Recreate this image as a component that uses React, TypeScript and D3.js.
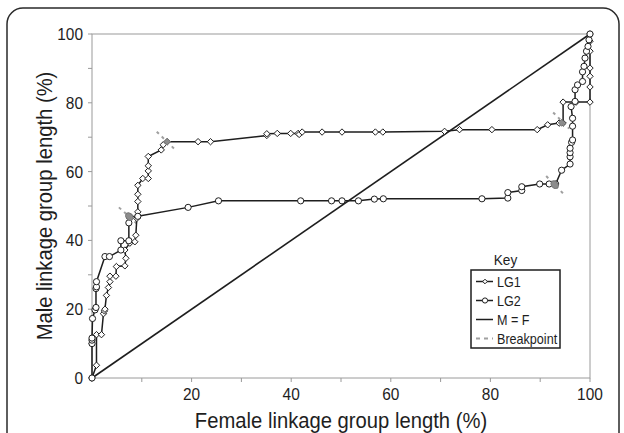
import React from 'react';
import * as d3 from 'd3';

// female (x) and male (y) map positions, % of linkage group length
const lg1Female = [0, 0.9, 0.9, 1.9, 2.3, 2.5, 2.6, 2.9, 3.3, 3.6, 3.6, 4.8, 4.9, 6.6, 6.8, 6.6, 7.6, 8.6, 8.8, 9.0, 9.2, 9.2, 9.2, 9.2, 10.2, 11.3, 11.3, 11.3, 11.3, 13.9, 14.3, 15.1, 21.3, 23.8, 35.1, 35.1, 37.2, 39.9, 41.4, 41.6, 42.2, 46.2, 50.2, 56.9, 58.4, 70.8, 73.8, 80.3, 89.4, 91.5, 93.8, 94.6, 94.6, 97.2, 100, 100, 100, 100, 100, 100, 100];
const lg1Male = [0, 3.7, 12.6, 12.6, 18.7, 19.5, 20, 24, 26.3, 28, 29.6, 29.6, 32.4, 32.6, 34.8, 37.2, 39.2, 39.6, 41.5, 46.4, 48.3, 51.3, 53.4, 56, 58, 58, 60.2, 61.7, 64.4, 66.3, 67.8, 68.7, 68.7, 68.7, 70.5, 71, 71.1, 71.1, 71.1, 70.8, 71.5, 71.5, 71.5, 71.5, 71.5, 71.7, 72.2, 72.2, 72.2, 73.6, 74.1, 74.1, 80.2, 80.2, 80.2, 84.6, 87.7, 90.1, 95, 97.9, 100];

const lg2Female = [0, 0, 0, 0, 0.1, 0.6, 0.8, 0.8, 0.9, 0.9, 2.6, 3.5, 5.8, 5.8, 7.4, 7.4, 7.5, 9.2, 19.3, 25.4, 41.9, 48.1, 50.2, 53.5, 56.7, 58.5, 78.3, 83.5, 83.5, 86.3, 86.3, 89.9, 91.8, 93.1, 94.3, 96, 96, 96, 96, 96.3, 96.5, 96.5, 96.5, 96.2, 97, 97, 97.5, 98.5, 98.5, 98.8, 99, 99.3, 99.6, 99.8, 100];
const lg2Male = [0, 10, 11, 11.6, 17.3, 19.8, 20.5, 26, 26.5, 28, 35.3, 35.3, 37.2, 39.9, 39.9, 45.1, 46.9, 47, 49.6, 51.5, 51.5, 51.5, 51.5, 51.5, 52, 52.1, 52.1, 52.3, 53.9, 54.5, 55.6, 56.4, 56.4, 56.4, 60.4, 62.2, 64.3, 65.5, 66.8, 68.5, 69.2, 73.2, 75.5, 78.9, 80.4, 83.8, 85.2, 86.2, 89, 90.6, 93, 95, 96.4, 98.3, 100];

// breakpoints: marker position plus the dashed segment across it
const bpGroup = ['LG1', 'LG2', 'LG1', 'LG2'];
const bpFemale = [15.1, 7.5, 94.3, 92.9];
const bpMale = [68.7, 46.9, 74.2, 56.2];
const bpFromFemale = [13.0, 5.4, 92.6, 91.2];
const bpFromMale = [71.6, 49.6, 77.2, 58.7];
const bpToFemale = [16.9, 9.4, 95.8, 94.9];
const bpToMale = [66.1, 44.4, 72.5, 53.2];

const xLabels = [20, 40, 60, 80, 100];
const yLabels = [0, 20, 40, 60, 80, 100];
const minorTicks = [0, 10, 20, 30, 40, 50, 60, 70, 80, 90, 100];

const legendItems = ['LG1', 'LG2', 'M = F', 'Breakpoint'];

const W = 624;
const H = 433;
const margin = { left: 92, right: 34, top: 34, bottom: 55 };
const FONT = 'Liberation Sans, Arial, sans-serif';
const INK = '#1e1e1e';
const AXIS = '#9a9a9a';
const BP = '#a0a0a0';

const diamond = (h: number) => `M0,${-h}L${h},0L0,${h}L${-h},0Z`;

function Sq({ x, y, children, size, anchor = 'start', rotate = 0, sx = 0.91 }: any) {
  return (
    <text
      transform={`translate(${x},${y}) rotate(${rotate}) scale(${sx},1)`}
      fontSize={size}
      fontFamily={FONT}
      fill={INK}
      textAnchor={anchor}
    >
      {children}
    </text>
  );
}

export default function App() {
  const x = d3.scaleLinear().domain([0, 100]).range([margin.left, W - margin.right]);
  const y = d3.scaleLinear().domain([0, 100]).range([H - margin.bottom, margin.top]);

  const lg1 = lg1Female.map((f, i) => [f, lg1Male[i]] as [number, number]);
  const lg2 = lg2Female.map((f, i) => [f, lg2Male[i]] as [number, number]);
  const line = d3.line<[number, number]>().x(d => x(d[0])).y(d => y(d[1]));

  const x0 = x(0), x1 = x(100), y0 = y(0), y1 = y(100);

  const lgX = 471, lgY = 270, lgW = 89, lgH = 78;
  const rowY = [281.5, 300.5, 319.5, 338.5];

  return (
    <svg width={W} height={H} style={{ position: 'absolute', left: 0, top: 0, background: '#fff' }}>
      <rect x={0} y={0} width={W} height={H} fill="#fff" />
      <rect x={7} y={8} width={612} height={460} rx={16} ry={16} fill="none" stroke="#2a2a2a" strokeWidth={1.5} />

      {/* plot frame */}
      <rect x={x0} y={y1} width={x1 - x0} height={y0 - y1} fill="none" stroke={AXIS} strokeWidth={1} />
      {minorTicks.map(t => (
        <line key={'xt' + t} x1={x(t)} x2={x(t)} y1={y0} y2={y0 + 4} stroke={AXIS} />
      ))}
      {minorTicks.map(t => (
        <line key={'yt' + t} x1={x0 - 4} x2={x0} y1={y(t)} y2={y(t)} stroke={AXIS} />
      ))}
      {xLabels.map(t => (
        <Sq key={'xl' + t} x={x(t)} y={y0 + 22} size={17} anchor="middle">{t}</Sq>
      ))}
      {yLabels.map(t => (
        <Sq key={'yl' + t} x={x0 - 9} y={y(t) + 6} size={17} anchor="end">{t}</Sq>
      ))}
      <Sq x={(x0 + x1) / 2} y={428} size={22} anchor="middle" sx={0.92}>Female linkage group length (%)</Sq>
      <Sq x={52} y={(y0 + y1) / 2} size={22} anchor="middle" rotate={-90} sx={0.92}>Male linkage group length (%)</Sq>

      {/* M = F */}
      <line x1={x(0)} y1={y(0)} x2={x(100)} y2={y(100)} stroke={INK} strokeWidth={1.6} />

      {/* breakpoints */}
      {bpGroup.map((g, i) => (
        <line key={'bp' + i} x1={x(bpFromFemale[i])} y1={y(bpFromMale[i])} x2={x(bpToFemale[i])} y2={y(bpToMale[i])}
          stroke={BP} strokeWidth={2} strokeDasharray="3,4" />
      ))}

      <path d={line(lg1) || ''} fill="none" stroke={INK} strokeWidth={1.5} />
      <path d={line(lg2) || ''} fill="none" stroke={INK} strokeWidth={1.5} />

      {lg1.map((d, i) => (
        <path key={'d' + i} d={diamond(3.2)} transform={`translate(${x(d[0])},${y(d[1])})`} fill="#fff" stroke={INK} strokeWidth={1} />
      ))}
      {lg2.map((d, i) => (
        <circle key={'c' + i} cx={x(d[0])} cy={y(d[1])} r={3.1} fill="#fff" stroke={INK} strokeWidth={1} />
      ))}

      {bpGroup.map((g, i) => g === 'LG1'
        ? <path key={'bm' + i} d={diamond(3.4)} transform={`translate(${x(bpFemale[i])},${y(bpMale[i])})`} fill="#8c8c8c" stroke="#777" />
        : <ellipse key={'bm' + i} cx={x(bpFemale[i])} cy={y(bpMale[i])} rx={3.2} ry={4.2} transform={`rotate(-40,${x(bpFemale[i])},${y(bpMale[i])})`} fill="#8c8c8c" stroke="#777" />
      )}

      {/* legend */}
      <Sq x={lgX + lgW / 2 - 10} y={lgY - 5} size={15} anchor="middle">Key</Sq>
      <rect x={lgX} y={lgY} width={lgW} height={lgH} fill="#fff" stroke={INK} strokeWidth={1.5} />
      {legendItems.map((name, i) => (
        <g key={name}>
          <line x1={lgX + 5} x2={lgX + 22} y1={rowY[i]} y2={rowY[i]}
            stroke={i === 3 ? BP : INK} strokeWidth={i === 3 ? 2 : 1.5} strokeDasharray={i === 3 ? '4,4' : undefined} />
          {i === 0 && <path d={diamond(2.3)} transform={`translate(${lgX + 14},${rowY[i]})`} fill="#fff" stroke={INK} />}
          {i === 1 && <circle cx={lgX + 14} cy={rowY[i]} r={2.6} fill="#fff" stroke={INK} />}
          <Sq x={lgX + 26} y={rowY[i] + 5} size={14} sx={0.9}>{name}</Sq>
        </g>
      ))}
    </svg>
  );
}
